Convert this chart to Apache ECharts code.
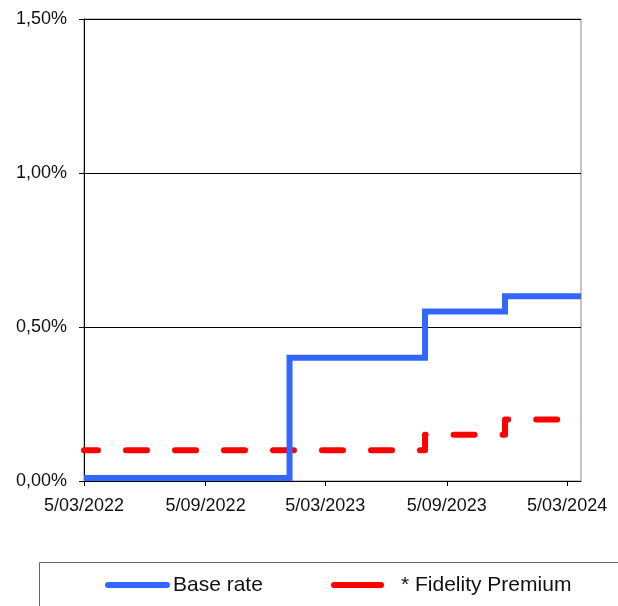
<!DOCTYPE html>
<html>
<head>
<meta charset="utf-8">
<script src="https://cdn.jsdelivr.net/npm/echarts@6/dist/echarts.min.js"></script>
<style>
html,body{margin:0;padding:0;background:#fff;}
#chart{width:618px;height:606px;}
</style>
</head>
<body>
<div id="chart"></div>
<script>
// ---- data ----
var baseDates = ['2022-03-05', '2023-01-10', '2023-08-03', '2023-12-02', '2024-03-26'];
var baseRate = [0.01, 0.40, 0.55, 0.60, 0.60];
var premDates = ['2022-03-05', '2023-08-03', '2023-12-02', '2024-03-26'];
var premium = [0.10, 0.15, 0.20, 0.20];
var xTickDates = ['2022-03-05', '2022-09-05', '2023-03-05', '2023-09-05', '2024-03-05'];
var yTicks = [0, 0.5, 1.0, 1.5];
var seriesNames = ['Base rate', '* Fidelity Premium'];
var seriesColors = ['#3366FF', '#FF0000'];

function ts(s){ var p = s.split('-'); return Date.UTC(+p[0], +p[1]-1, +p[2]); }
function fmtDate(v){ var d = new Date(v); var m = d.getUTCMonth()+1; return d.getUTCDate() + '/' + (m<10?'0':'') + m + '/' + d.getUTCFullYear(); }
function pairs(dates, vals){ return dates.map(function(d,i){ return [ts(d), vals[i]]; }); }

var FONT = 'Liberation Sans, Arial, sans-serif';
var chart = echarts.init(document.getElementById('chart'), null, {renderer:'canvas'});
var xTicks = xTickDates.map(ts);

// legend keys (drawn as graphic so the dashed series gets a solid key, as in the reference)
var legendKeys = [
  {x: 105, w: 65, textX: 173},
  {x: 331, w: 53, textX: 401}
];
var legendY = 585;
var legendGraphics = [];
legendKeys.forEach(function(k, i){
  legendGraphics.push({type: 'rect', shape: {x: k.x, y: legendY - 3, width: k.w, height: 6, r: 3},
    style: {fill: seriesColors[i], stroke: null, lineDash: null}});
  legendGraphics.push({type: 'text', x: k.textX, y: legendY,
    style: {text: seriesNames[i], fontFamily: FONT, fontSize: 21, fill: '#111', align: 'left', verticalAlign: 'middle'}});
});

chart.setOption({
  animation: false,
  backgroundColor: '#fff',
  grid: {left: 84, right: 37, top: 19, bottom: 125, show: true, borderColor: '#888', borderWidth: 1, backgroundColor: 'transparent'},
  xAxis: {
    type: 'value',
    min: ts('2022-03-05'),
    max: ts('2024-03-26'),
    axisLine: {show: true, lineStyle: {color: '#000', width: 1}},
    axisTick: {show: true, length: 5, inside: false, customValues: xTicks, lineStyle: {color: '#000'}},
    axisLabel: {customValues: xTicks, formatter: function(v){ return fmtDate(v); }, fontFamily: FONT, fontSize: 18, color: '#111', margin: 16, hideOverlap: false, showMinLabel: true, showMaxLabel: true},
    splitLine: {show: false}
  },
  yAxis: {
    type: 'value',
    min: 0, max: 1.5, interval: 0.5,
    axisLine: {show: true, lineStyle: {color: '#000', width: 1}},
    axisTick: {show: true, length: 5, lineStyle: {color: '#000'}},
    axisLabel: {formatter: function(v){ return v.toFixed(2).replace('.', ',') + '%'; }, fontFamily: FONT, fontSize: 18, color: '#111', margin: 17},
    splitLine: {show: true, lineStyle: {color: '#000', width: 1}}
  },
  graphic: [
    {type: 'rect', left: 37, top: 560, shape: {width: 600, height: 80}, style: {fill: 'none', stroke: '#666', lineWidth: 1}, z: -1}
  ].concat(legendGraphics),
  series: [
    {name: seriesNames[0], type: 'line', step: 'end', data: pairs(baseDates, baseRate), showSymbol: false, symbol: 'none',
     lineStyle: {color: seriesColors[0], width: 6, join: 'miter', cap: 'butt'}, itemStyle: {color: seriesColors[0]}, z: 3},
    {name: seriesNames[1], type: 'line', step: 'end', data: pairs(premDates, premium), showSymbol: false, symbol: 'none',
     lineStyle: {color: seriesColors[1], width: 6, type: [21, 28], dashOffset: 7, cap: 'round', join: 'round'}, itemStyle: {color: seriesColors[1]}, z: 2}
  ]
});
</script>
</body>
</html>
